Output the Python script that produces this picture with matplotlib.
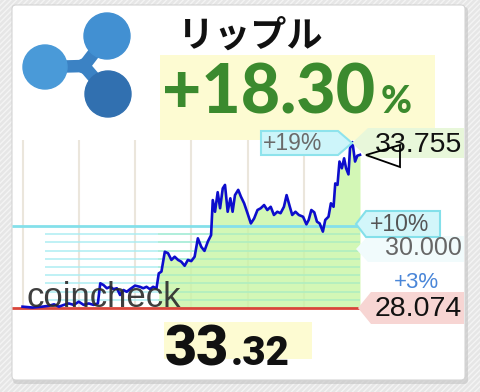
import numpy as np
import matplotlib
matplotlib.use("Agg")
import matplotlib.pyplot as plt
from matplotlib.patches import Rectangle, Polygon, Circle, FancyBboxPatch

# price over the last 24 hours (hours, price)
hours = [0.00, 0.71, 1.41, 1.88, 2.24, 2.59, 2.94, 3.29, 3.65, 4.00, 4.35, 4.71, 5.06, 5.36,
         5.53, 5.76, 6.00, 6.24, 6.47, 6.71, 6.94, 7.18, 7.41, 7.65, 8.00, 8.35, 8.59, 8.82,
         9.06, 9.29, 9.53, 9.69, 9.88, 10.12, 10.35, 10.59, 10.82, 11.06, 11.29, 11.53, 11.76,
         12.00, 12.24, 12.47, 12.71, 12.94, 13.18, 13.41, 13.53, 13.69, 13.88, 14.05, 14.24,
         14.40, 14.59, 14.78, 14.94, 15.11, 15.34, 15.53, 15.76, 16.00, 16.24, 16.47, 16.71,
         16.94, 17.18, 17.41, 17.65, 17.88, 18.12, 18.35, 18.59, 18.78, 19.01, 19.18, 19.41,
         19.65, 19.95, 20.19, 20.35, 20.54, 20.75, 20.94, 21.13, 21.36, 21.53, 21.76, 21.93,
         22.12, 22.24, 22.40, 22.54, 22.71, 22.87, 23.01, 23.18, 23.29, 23.46, 23.65, 23.81, 24.00]
prices = [28.12, 28.09, 28.12, 28.15, 28.20, 28.12, 28.18, 28.23, 28.18, 28.29, 28.18, 28.23,
          28.18, 28.23, 28.92, 28.86, 28.75, 28.80, 28.72, 28.75, 28.52, 28.69, 28.63, 28.72,
          28.84, 28.80, 28.75, 28.80, 28.72, 28.80, 28.75, 29.26, 29.32, 30.00, 29.95, 29.72,
          29.83, 29.72, 29.66, 29.52, 29.72, 29.68, 29.83, 30.46, 30.17, 30.03, 30.35, 30.57,
          31.77, 31.37, 32.04, 31.49, 32.17, 32.29, 31.37, 31.83, 31.37, 31.94, 32.12, 31.89,
          31.66, 31.32, 30.97, 31.14, 31.43, 31.49, 31.60, 31.43, 31.54, 31.26, 31.37, 31.32,
          31.54, 31.94, 31.54, 31.26, 31.37, 31.26, 31.20, 30.94, 31.09, 31.43, 31.35, 31.03,
          30.97, 30.69, 31.09, 31.20, 31.66, 31.54, 32.34, 32.29, 33.09, 32.86, 33.20, 32.86,
          32.65, 33.54, 33.755, 33.09, 33.29, 33.32]

base_price = 28.074
high_price = 33.755
ref_price = 30.000
fill_from = 9.6
grid_hours = [0, 4, 8, 12, 16, 20]
step_pcts = [1, 2, 3, 4, 5, 6, 7, 8, 9]
title = "リップル"
change_text = "+18.30"
last_int, last_dec = "33", ".32"

W, H = 480, 392
fig = plt.figure(figsize=(W / 100, H / 100), dpi=100)

def box(x0, y0, x1, y1):
    return [x0 / W, 1 - y1 / H, (x1 - x0) / W, (y1 - y0) / H]

def pixel_axes(z):
    a = fig.add_axes([0, 0, 1, 1])
    a.set_xlim(0, W)
    a.set_ylim(H, 0)
    a.axis("off")
    a.patch.set_alpha(0)
    a.set_zorder(z)
    return a

# background / card layer in pixel units
bg = pixel_axes(0)
plt.rcParams["hatch.linewidth"] = 1.0
bg.add_patch(Rectangle((0, 0), W, H, facecolor="#e6e6e6", edgecolor="#f4f4f4", hatch="//////", lw=0))
bg.add_patch(FancyBboxPatch((13, 7), 455, 377, boxstyle="round,pad=0,rounding_size=4",
                            fc="#c4c4c4", ec="none", alpha=0.6))
bg.add_patch(FancyBboxPatch((12, 5), 453, 375, boxstyle="round,pad=0,rounding_size=4",
                            fc="white", ec="#d4d4d4", lw=0.8))

# ripple logo: arms first, then the three balls
hub = (84, 66)
balls = [(107, 36, 23, "#4290d2"), (45, 67, 22, "#4a9ad8"), (108, 94, 23, "#3170b0")]
for cx, cy, r, col in balls:
    bg.plot([hub[0], cx], [hub[1], cy], color="#3b82c4", lw=9, solid_capstyle="round", zorder=3)
bg.add_patch(Circle(hub, 7, color="#3b82c4", zorder=3))
for cx, cy, r, col in balls:
    bg.add_patch(Circle((cx, cy), r, color=col, zorder=4))

bg.text(178, 36, title, fontsize=26, fontweight="bold", va="center", ha="left",
        family=["Noto Sans CJK JP", "DejaVu Sans"], color="#111111")
bg.add_patch(Rectangle((160, 55), 275, 85, fc="#fdfbd2", ec="none", zorder=1))
bg.text(162, 113, change_text, fontsize=49, fontweight="black", family="Lato",
        color="#3b8a2e", va="baseline", zorder=2)
bg.text(381, 113, "%", fontsize=27, fontweight="black", family="Lato",
        color="#3b8a2e", va="baseline", zorder=2)

bg.add_patch(Rectangle((164, 322), 148, 37, fc="#fdfbd2", ec="none", zorder=1))
bg.text(165, 365, last_int, fontsize=40, fontweight="black", family="Roboto",
        color="#111111", va="baseline", zorder=2)
bg.text(231, 365, last_dec, fontsize=29, fontweight="black", family="Roboto",
        color="#111111", va="baseline", zorder=2)

# price chart
ax = fig.add_axes(box(12, 140, 465, 330))
ax.set_zorder(1)
px_h = 337.5 / 24
px_p = 29.2
ax.set_xlim(-10.5 / px_h, 442.5 / px_h)
ax.set_ylim(base_price - 22 / px_p, base_price + 168 / px_p)
ax.axis("off")
ax.patch.set_alpha(0)

hrs = np.array(hours)
prc = np.array(prices)
top = ax.get_ylim()[1]
levels = [base_price * (1 + p / 100) for p in step_pcts]
ax.vlines(grid_hours, base_price, top, color="#ebe6dc", lw=1.5, zorder=1)
ax.hlines(levels, 1.6, hrs[-1], color="#a8ecf2", lw=1.3, alpha=0.8, zorder=2)
ax.fill_between(hrs, base_price, prc, where=hrs >= fill_from, color="#c9f5a4",
                alpha=0.8, lw=0, zorder=3)
ax.hlines(levels, fill_from, hrs[-1], color="#a6ecc8", lw=1.3, alpha=0.6, zorder=3)
ax.hlines(base_price * 1.10, ax.get_xlim()[0], hrs[-1], color="#84e0ea", lw=2, zorder=4)
ax.hlines(base_price, ax.get_xlim()[0], hrs[-1] + 0.9, color="#d9453a", lw=2, zorder=4)
ax.plot(hrs, prc, color="#0d0dcc", lw=1.9, zorder=6)

# labels on the right (pixel units), above the chart
lab = pixel_axes(2)

def tag(x_tip, y, x0, x1, h, fc, ec=None, z=5, point="left"):
    if point == "left":
        pts = [(x_tip, y), (x0, y - h / 2), (x1, y - h / 2), (x1, y + h / 2), (x0, y + h / 2)]
    else:
        pts = [(x_tip, y), (x1, y - h / 2), (x0, y - h / 2), (x0, y + h / 2), (x1, y + h / 2)]
    lab.add_patch(Polygon(pts, closed=True, fc=fc, ec=ec if ec else "none", lw=1.5, zorder=z))

tag(352, 143, 368, 464, 30, "#e8f7da", z=1)
tag(352, 143, 261, 338, 24, "#cdf5fa", "#8ee3ec", z=2, point="right")
lab.text(263, 143, "+19%", fontsize=16.5, color="#6a6a6a", family="Liberation Sans",
         va="center", zorder=6)
lab.text(462, 145, f"{high_price:.3f}", fontsize=20.5, color="#111111", family="Liberation Sans",
         va="center", ha="right", zorder=6)
lab.add_patch(Polygon([(366, 155), (400, 145), (400, 167)], closed=True, fill=False,
                      ec="black", lw=1.3, zorder=7))

tag(356, 224, 366, 440, 26, "#d2f6fa", "#84e0ea", z=2)
lab.text(370, 224, "+10%", fontsize=16.5, color="#555555", family="Liberation Sans",
         va="center", zorder=6)
tag(356, 249, 368, 464, 26, "#f1fbfc", z=1)
lab.text(462, 248, f"{ref_price:.3f}", fontsize=18, color="#666666", family="Liberation Sans",
         va="center", ha="right", zorder=6)
lab.text(416, 282, "+3%", fontsize=16, color="#4a86d8", family="Liberation Sans",
         va="center", ha="center", zorder=6)
tag(358, 308, 371, 464, 32, "#f7d5d3", z=1)
lab.text(462, 309, f"{base_price:.3f}", fontsize=20.5, color="#111111", family="Liberation Sans",
         va="center", ha="right", zorder=6)

lab.text(26, 307, "coincheck", fontsize=25, color="#2a2a2a", family="Liberation Sans",
         va="baseline", alpha=0.9, zorder=8)

fig.savefig("out.png", dpi=100)
